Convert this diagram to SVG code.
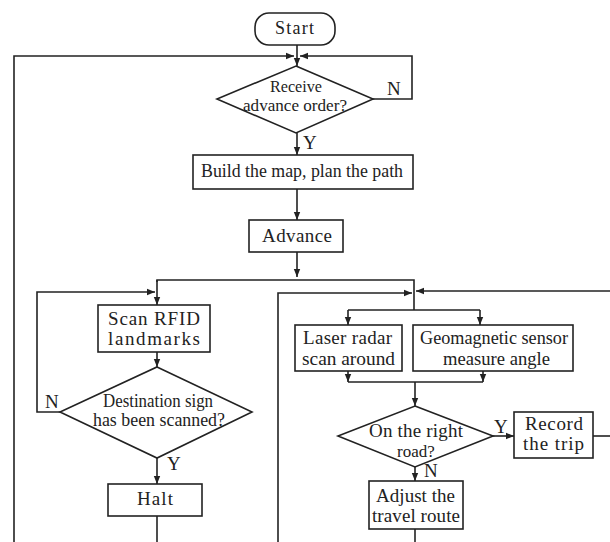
<svg xmlns="http://www.w3.org/2000/svg" width="610" height="542" viewBox="0 0 610 542">
<style>
.b{fill:#fff;stroke:#222;stroke-width:1.6}
.l{fill:none;stroke:#222;stroke-width:1.6}
text{font-family:"Liberation Serif","Times New Roman",serif;font-size:19px;fill:#222}
</style>
<defs>
<marker id="a" viewBox="0 0 10 10" refX="10" refY="5" markerWidth="8" markerHeight="8" markerUnits="userSpaceOnUse" orient="auto"><path d="M0,1 L10,5 L0,9 Z" fill="#222"/></marker>
</defs>
<rect width="610" height="542" fill="#fff"/>
<g id="connectors">
<path class="l" d="M297,45 V66" marker-end="url(#a)"/>
<path class="l" d="M14,542 V56 H294" marker-end="url(#a)"/>
<path class="l" d="M373,99 H412 V56 H300" marker-end="url(#a)"/>
<path class="l" d="M297,133 V155" marker-end="url(#a)"/>
<path class="l" d="M297,189 V220" marker-end="url(#a)"/>
<path class="l" d="M297,252 V277" marker-end="url(#a)"/>
<path class="l" d="M157,282 V280 H414 V310"/>
<path class="l" d="M157,280 V305" marker-end="url(#a)"/>
<path class="l" d="M60,412 H37 V292 H155" marker-end="url(#a)"/>
<path class="l" d="M157,352 V367" marker-end="url(#a)"/>
<path class="l" d="M157,458 V484" marker-end="url(#a)"/>
<path class="l" d="M157,516 V542"/>
<path class="l" d="M278,542 V293 H412" marker-end="url(#a)"/>
<path class="l" d="M610,291 H416" marker-end="url(#a)"/>
<path class="l" d="M348,310 H480"/>
<path class="l" d="M348,310 V325" marker-end="url(#a)"/>
<path class="l" d="M480,310 V325" marker-end="url(#a)"/>
<path class="l" d="M348,371 V382" marker-end="url(#a)"/>
<path class="l" d="M483,371 V382" marker-end="url(#a)"/>
<path class="l" d="M348,382 H483"/>
<path class="l" d="M415,382 V406" marker-end="url(#a)"/>
<path class="l" d="M493,436 H514" marker-end="url(#a)"/>
<path class="l" d="M593,436 H610"/>
<path class="l" d="M415,467 V481" marker-end="url(#a)"/>
<path class="l" d="M415,529 V542"/>
<text x="387" y="95">N</text>
<text x="303" y="149">Y</text>
<text x="45" y="408">N</text>
<text x="167" y="470">Y</text>
<text x="494" y="433">Y</text>
<text x="424" y="477">N</text>
</g>
<g id="start"><rect class="b" x="255" y="13" width="80" height="32" rx="14"/><text x="275" y="34" style="font-size:18px" textLength="39">Start</text></g>
<g id="receive"><path class="b" d="M296,66 L373,99 L296,133 L217,99 Z"/><text x="270" y="92" style="font-size:17px" textLength="52" lengthAdjust="spacingAndGlyphs">Receive</text><text x="243" y="111" style="font-size:17px" textLength="104" lengthAdjust="spacingAndGlyphs">advance order?</text></g>
<g id="build"><rect class="b" x="193" y="155" width="220" height="34"/><text x="201" y="177" textLength="202" lengthAdjust="spacingAndGlyphs">Build the map, plan the path</text></g>
<g id="advance"><rect class="b" x="249" y="220" width="94" height="32"/><text x="262" y="242" textLength="70">Advance</text></g>
<g id="scan"><rect class="b" x="98" y="305" width="112" height="47"/><text x="108" y="325" textLength="92">Scan RFID</text><text x="108" y="345" textLength="92">landmarks</text></g>
<g id="dest"><path class="b" d="M157,367 L252,412 L157,458 L60,412 Z"/><text x="103" y="407" textLength="110" lengthAdjust="spacingAndGlyphs">Destination sign</text><text x="93" y="426" textLength="132" lengthAdjust="spacingAndGlyphs">has been scanned?</text></g>
<g id="halt"><rect class="b" x="108" y="484" width="94" height="32"/><text x="137" y="505" textLength="36">Halt</text></g>
<g id="laser"><rect class="b" x="295" y="325" width="107" height="46"/><text x="303" y="344" textLength="89">Laser radar</text><text x="302" y="365" textLength="93" lengthAdjust="spacingAndGlyphs">scan around</text></g>
<g id="geo"><rect class="b" x="413" y="325" width="160" height="46"/><text x="420" y="344" textLength="148" lengthAdjust="spacingAndGlyphs">Geomagnetic sensor</text><text x="443" y="365" textLength="107" lengthAdjust="spacingAndGlyphs">measure angle</text></g>
<g id="road"><path class="b" d="M415,406 L493,436 L415,467 L338,436 Z"/><text x="369" y="437" textLength="94">On the right</text><text x="397" y="457" style="font-size:17px">road?</text></g>
<g id="record"><rect class="b" x="514" y="412" width="79" height="46"/><text x="525" y="430" textLength="58">Record</text><text x="523" y="450" textLength="61">the trip</text></g>
<g id="adjust"><rect class="b" x="369" y="481" width="94" height="48"/><text x="376" y="502" textLength="79">Adjust the</text><text x="372" y="522" textLength="88">travel route</text></g>
</svg>
